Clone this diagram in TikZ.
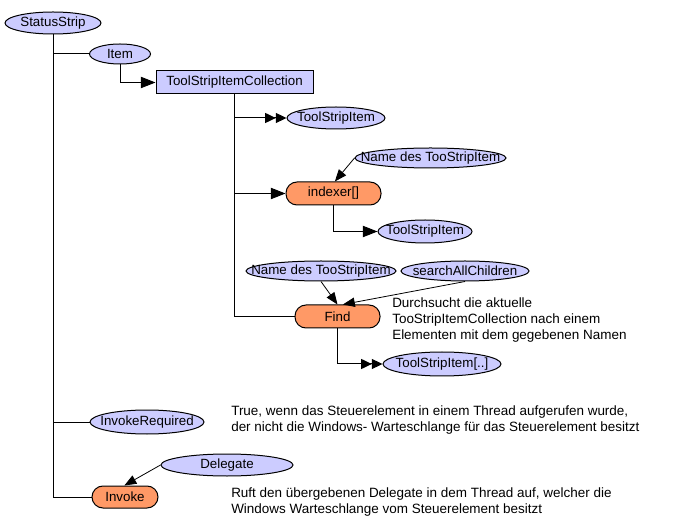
\documentclass[tikz,border=0pt]{standalone}
\usepackage{fontspec}
\setmainfont{Liberation Sans}
\usetikzlibrary{shapes.geometric,arrows.meta}
\definecolor{lav}{HTML}{CCCCFF}
\definecolor{orng}{HTML}{FF9966}
\newcommand{\zb}[1]{\makebox[0pt][c]{#1}}
\tikzset{
  ell/.style={ellipse,draw,fill=lav,inner sep=0pt,line width=0.75pt},
  stad/.style={rectangle,draw,fill=orng,rounded corners=8.25pt,inner sep=0pt,line width=0.75pt},
  boxn/.style={rectangle,draw,fill=lav,inner sep=0pt,line width=0.75pt},
  conn/.style={line width=0.75pt},
  arr/.style={conn,-{Triangle[length=11pt,width=8.5pt]}},
  dbl/.style={conn,-{Triangle[length=8pt,width=7.5pt,sep=0pt]Triangle[length=8pt,width=7.5pt]}},
  thin/.style={line width=0.6pt,-{Triangle[length=9pt,width=7pt]}},
  txt/.style={inner sep=0pt,align=left,anchor=west,font=\fontsize{10.1}{12}\selectfont}
}
\begin{document}
\begin{tikzpicture}[x=0.75pt,y=-0.75pt,font=\fontsize{10}{12}\selectfont]
\useasboundingbox (0,0) rectangle (681,530);
% nodes
\node[ell,minimum width=96*0.75pt,minimum height=22*0.75pt] (ss) at (53,23) {\zb{StatusStrip}};
\node[ell,minimum width=61*0.75pt,minimum height=20*0.75pt] (item) at (120,54) {\zb{Item}};
\node[boxn,minimum width=157*0.75pt,minimum height=23*0.75pt] (tsic) at (234.5,82.5) {\zb{ToolStripItemCollection}};
\node[ell,minimum width=98*0.75pt,minimum height=22*0.75pt] (tsi1) at (336,118) {\zb{ToolStripItem}};
\node[ell,minimum width=151*0.75pt,minimum height=20*0.75pt] (name1) at (430.5,158) {\zb{Name des TooStripItem}};
\node[stad,minimum width=95*0.75pt,minimum height=23*0.75pt] (idx) at (333.5,193.5) {\zb{indexer[]}};
\node[ell,minimum width=94*0.75pt,minimum height=23*0.75pt] (tsi2) at (425,231.5) {\zb{ToolStripItem}};
\node[ell,minimum width=150*0.75pt,minimum height=20*0.75pt] (name2) at (321,271) {\zb{Name des TooStripItem}};
\node[ell,minimum width=128*0.75pt,minimum height=20*0.75pt] (sac) at (465,271) {\zb{searchAllChildren}};
\node[stad,minimum width=85*0.75pt,minimum height=23*0.75pt] (find) at (337.5,316.5) {\zb{Find}};
\node[ell,minimum width=118*0.75pt,minimum height=24*0.75pt] (tsi3) at (442,364) {\zb{ToolStripItem[..]}};
\node[ell,minimum width=114*0.75pt,minimum height=24*0.75pt] (ir) at (147,422) {\zb{InvokeRequired}};
\node[ell,minimum width=132*0.75pt,minimum height=22*0.75pt] (del) at (227,465) {\zb{Delegate}};
\node[stad,minimum width=66*0.75pt,minimum height=22*0.75pt] (inv) at (125,497) {\zb{Invoke}};
% texts
\node[txt] (t1) at (392,320.5) {Durchsucht die aktuelle\\TooStripItemCollection nach einem\\Elementen mit dem gegebenen Namen};
\node[txt] (t2) at (231,420) {True, wenn das Steuerelement in einem Thread aufgerufen wurde,\\der nicht die Windows- Warteschlange f\"ur das Steuerelement besitzt};
\node[txt] (t3) at (231,502) {Ruft den \"ubergebenen Delegate in dem Thread auf, welcher die\\Windows Warteschlange vom Steuerelement besitzt};
% connectors
\coordinate (sstop) at (ss.south);
\draw[conn] (sstop) |- (inv.west);
\draw[conn] (sstop) |- (item.west);
\draw[conn] (sstop) |- (ir.west);
\draw[arr] (item.south) |- (tsic.west);
\draw[dbl] (tsic.south) |- (tsi1.west);
\draw[arr] (tsic.south) |- (idx.west);
\draw[conn] (tsic.south) |- (find.west);
\draw[arr] (idx.south) |- (tsi2.west);
\draw[dbl] (find.south) |- (tsi3.west);
\draw[thin] (name1.west) -- ([xshift=1pt]idx.north);
\draw[thin] (name2.south) -- (find.north);
\draw[thin] (sac.south) -- ([xshift=4pt]find.north);
\draw[thin] (del.west) -- ([xshift=-0.5pt]inv.north);
\end{tikzpicture}
\end{document}
